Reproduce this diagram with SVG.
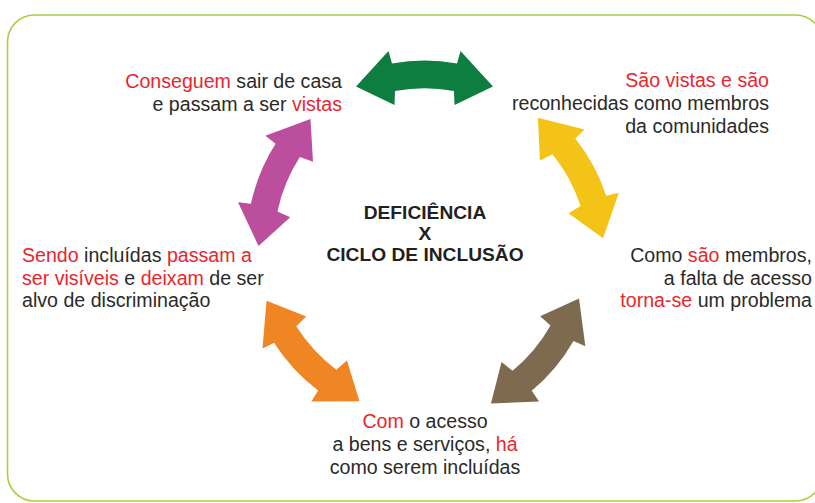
<svg xmlns="http://www.w3.org/2000/svg" xmlns:xlink="http://www.w3.org/1999/xlink" width="815" height="503" viewBox="0 0 815 503">
<style>
.t{font-family:"Liberation Sans",Arial,sans-serif;font-size:19.6px;fill:#2b2a29}
.r{fill:#e8262d}
.title{font-family:"Liberation Sans",Arial,sans-serif;font-size:19.2px;font-weight:bold;fill:#231f20}
</style>
<defs>
<path id="arr" d="M -68.5,0 L -36,-35.5 L -32.5,-23 A 185 185 0 0 1 32.5,-23 L 36,-35.5 L 68.5,0 L 30,18.5 L 29.5,4.5 A 160 160 0 0 0 -29.5,4.5 L -30,18.5 Z"/>
</defs>
<rect width="815" height="503" fill="#ffffff"/>
<rect id="frame" x="7.5" y="15" width="815" height="486" rx="27" ry="27" fill="none" stroke="#a8cf45" stroke-width="1.6"/>
<g id="connectors">
<use xlink:href="#arr" href="#arr" fill="#0e7d40" transform="translate(424.5,86.5) rotate(0)"/>
<use xlink:href="#arr" href="#arr" fill="#f3c318" transform="translate(570.5,178) rotate(61.6)"/>
<use xlink:href="#arr" href="#arr" fill="#7e6a4f" transform="translate(535,351) rotate(130)"/>
<use xlink:href="#arr" href="#arr" fill="#ef8523" transform="translate(313,351) rotate(227.3)"/>
<use xlink:href="#arr" href="#arr" fill="#bb4f9d" transform="translate(284.5,182.5) rotate(-67.7)"/>
</g>
<g id="center">
<text class="title" x="425" y="219" text-anchor="middle">DEFICIÊNCIA</text>
<text class="title" x="425" y="240" text-anchor="middle">X</text>
<text class="title" x="425" y="261" text-anchor="middle">CICLO DE INCLUSÃO</text>
</g>
<g id="node-top-left">
<text class="t" x="342" y="88" text-anchor="end"><tspan class="r">Conseguem</tspan> sair de casa</text>
<text class="t" x="342" y="111" text-anchor="end">e passam a ser <tspan class="r">vistas</tspan></text>
</g>
<g id="node-top-right">
<text class="t" x="769" y="87" text-anchor="end"><tspan class="r">São vistas e são</tspan></text>
<text class="t" x="769" y="110" text-anchor="end">reconhecidas como membros</text>
<text class="t" x="769" y="133" text-anchor="end">da comunidades</text>
</g>
<g id="node-right">
<text class="t" x="812" y="262" text-anchor="end">Como <tspan class="r">são</tspan> membros,</text>
<text class="t" x="812" y="284.5" text-anchor="end">a falta de acesso</text>
<text class="t" x="812" y="307" text-anchor="end"><tspan class="r">torna-se</tspan> um problema</text>
</g>
<g id="node-bottom">
<text class="t" x="425" y="428" text-anchor="middle"><tspan class="r">Com</tspan> o acesso</text>
<text class="t" x="425" y="451" text-anchor="middle">a bens e serviços, <tspan class="r">há</tspan></text>
<text class="t" x="425" y="474" text-anchor="middle">como serem incluídas</text>
</g>
<g id="node-left">
<text class="t" x="22" y="262"><tspan class="r">Sendo</tspan> incluídas <tspan class="r">passam a</tspan></text>
<text class="t" x="22" y="284.5"><tspan class="r">ser visíveis</tspan> e <tspan class="r">deixam</tspan> de ser</text>
<text class="t" x="22" y="307">alvo de discriminação</text>
</g>
</svg>
